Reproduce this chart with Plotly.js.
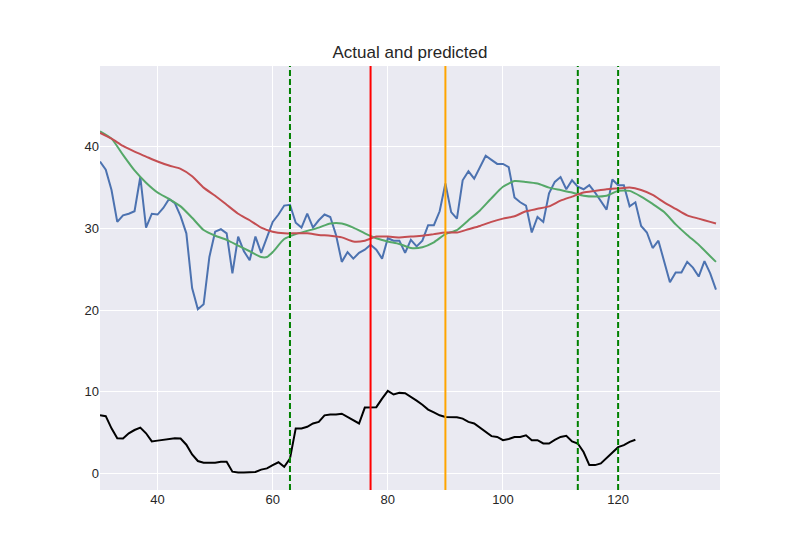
<!DOCTYPE html>
<html>
<head>
<meta charset="utf-8">
<script src="https://cdn.plot.ly/plotly-3.0.1.min.js"></script>
<style>html,body{margin:0;padding:0;background:#fff;}#chart{width:800px;height:550px;}</style>
</head>
<body>
<div id="chart"></div>
<script>
// Actual series (x = 30..137)
var actualStart = 30;
var actualValues = [38.2,37.2,34.7,30.8,31.6,31.8,32.1,36.3,30.1,31.8,
  31.7,32.5,33.6,33.1,31.5,29.4,22.7,20.1,20.7,26.5,
  29.6,29.9,29.4,24.5,29.0,27.2,26.1,29.0,27.0,29.0,
  30.8,31.7,32.8,32.9,30.7,30.1,31.8,30.1,31.0,31.7,
  31.4,29.2,25.9,27.1,26.3,27.0,27.4,28.0,27.4,26.3,
  28.8,28.5,28.5,27.0,28.6,27.8,28.5,30.4,30.4,32.1,
  35.5,32.0,31.2,35.9,37.0,36.1,37.5,38.9,38.4,37.9,
  37.9,37.5,33.8,33.2,32.8,29.5,31.4,30.8,34.3,35.7,
  36.3,34.8,35.9,35.1,34.8,35.3,34.4,33.4,32.3,36.0,
  35.3,35.3,32.7,33.2,30.3,29.5,27.6,28.5,26.1,23.4,
  24.6,24.6,25.9,25.2,24.1,26.0,24.5,22.5];

// Slow smoothed series (red)
var slowX = [30,32,34,36,38,40,42,44,46,48,50,52,54,56,58,60,62,64,66,68,70,72,74,76,78,80,82,84,86,88,90,92,94,96,98,100,102,104,106,108,110,112,114,116,118,120,122,124,126,128,130,132,134,136,137];
var slowValues = [41.7,41.0,40.1,39.4,38.8,38.2,37.7,37.3,36.4,35.0,34.0,32.9,31.8,31.0,30.1,29.6,29.4,29.4,29.4,29.2,29.1,28.9,28.4,28.5,29.0,29.0,28.9,29.0,29.1,29.3,29.5,29.5,29.9,30.3,30.8,31.2,31.5,32.1,32.4,32.7,33.4,33.9,34.4,34.6,34.8,34.9,35.0,34.7,34.1,33.2,32.4,31.6,31.2,30.8,30.6];

// Fast smoothed series (green)
var fastX = [30,32,34,36,38,40,42,44,46,48,50,52,54,56,58,59,60,62,64,66,68,70,72,74,76,78,80,82,84,86,88,90,92,94,96,98,100,102,104,106,108,110,112,114,116,118,120,122,124,126,128,130,132,134,136,137];
var fastValues = [41.9,41.0,39.0,37.1,35.6,34.4,33.6,32.7,31.3,29.8,29.1,28.6,27.9,27.2,26.5,26.5,27.1,28.7,29.3,29.7,30.1,30.6,30.6,30.1,29.4,28.8,28.4,28.1,27.6,27.7,28.3,29.3,29.8,31.0,32.2,33.7,35.1,35.8,35.7,35.5,35.0,34.7,34.4,34.0,33.9,34.0,34.6,34.6,33.9,33.0,32.0,30.5,29.2,28.0,26.6,25.9];

// Lower (black) series (x = 30..123)
var lowerStart = 30;
var lowerValues = [7.1,7.0,5.5,4.3,4.25,4.9,5.3,5.6,4.9,3.9,
  4.0,4.1,4.2,4.3,4.25,3.5,2.3,1.5,1.3,1.3,
  1.3,1.4,1.4,0.2,0.1,0.1,0.1,0.15,0.45,0.6,
  1.0,1.35,0.8,1.8,5.5,5.5,5.7,6.1,6.3,7.1,
  7.2,7.2,7.3,6.9,6.4,6.1,8.05,8.05,8.1,9.15,
  10.1,9.65,9.85,9.8,9.4,8.9,8.4,7.8,7.45,7.1,
  6.9,6.9,6.85,6.7,6.3,6.1,5.6,5.1,4.55,4.45,
  4.05,4.2,4.45,4.45,4.65,4.05,4.05,3.65,3.65,4.1,
  4.45,4.6,3.9,3.65,2.6,1.0,1.0,1.2,1.9,2.6,
  3.2,3.45,3.85,4.1];

// Vertical markers
var dashedGreenX = [63, 113, 120];
var redLineX = 77;
var orangeLineX = 90;

var xRange = [30, 137.7];
var yRange = [-2.05, 49.9];
var yTicks = [0, 10, 20, 30, 40];
var xTicks = [40, 60, 80, 100, 120];

function seq(start, n) { var a = []; for (var i = 0; i < n; i++) a.push(start + i); return a; }

var traces = [
  {x: seq(actualStart, actualValues.length), y: actualValues, mode: 'lines', line: {color: '#4C72B0', width: 2}, hoverinfo: 'skip'},
  {x: fastX, y: fastValues, mode: 'lines', line: {color: '#55A868', width: 2, shape: 'spline', smoothing: 0.6}, hoverinfo: 'skip'},
  {x: slowX, y: slowValues, mode: 'lines', line: {color: '#C44E52', width: 2, shape: 'spline', smoothing: 0.6}, hoverinfo: 'skip'},
  {x: seq(lowerStart, lowerValues.length), y: lowerValues, mode: 'lines', line: {color: '#000000', width: 2}, hoverinfo: 'skip'}
];

var shapes = [];
dashedGreenX.forEach(function (v) {
  shapes.push({type: 'line', xref: 'x', yref: 'paper', x0: v, x1: v, y0: 0, y1: 1, line: {color: '#008000', width: 2, dash: '6px,3px'}});
});
shapes.push({type: 'line', xref: 'x', yref: 'paper', x0: redLineX, x1: redLineX, y0: 0, y1: 1, line: {color: '#FF0000', width: 2}});
shapes.push({type: 'line', xref: 'x', yref: 'paper', x0: orangeLineX, x1: orangeLineX, y0: 0, y1: 1, line: {color: '#FFA500', width: 2}});

var layout = {
  width: 800, height: 550,
  margin: {l: 100, r: 80, t: 66, b: 60, pad: 0},
  paper_bgcolor: '#FFFFFF',
  plot_bgcolor: '#EAEAF2',
  showlegend: false,
  font: {family: 'Liberation Sans, Arial, sans-serif', color: '#262626', size: 12},
  title: {text: 'Actual and predicted', font: {size: 17, color: '#262626'}, xref: 'paper', x: 0.5, xanchor: 'center', yref: 'container', y: 1 - 52/550, yanchor: 'middle'},
  xaxis: {range: xRange, tickvals: xTicks, ticktext: xTicks.map(String), showgrid: true, gridcolor: '#FFFFFF', gridwidth: 1, zeroline: false, showline: false, ticks: '', ticklen: 0, tickfont: {size: 13, color: '#262626'}},
  yaxis: {range: yRange, tickvals: yTicks, ticktext: yTicks.map(String), showgrid: true, gridcolor: '#FFFFFF', gridwidth: 1, zeroline: false, showline: false, ticks: '', ticklen: 0, tickfont: {size: 13, color: '#262626'}},
  shapes: shapes
};

Plotly.newPlot('chart', traces, layout, {staticPlot: true, displayModeBar: false});
</script>
</body>
</html>
